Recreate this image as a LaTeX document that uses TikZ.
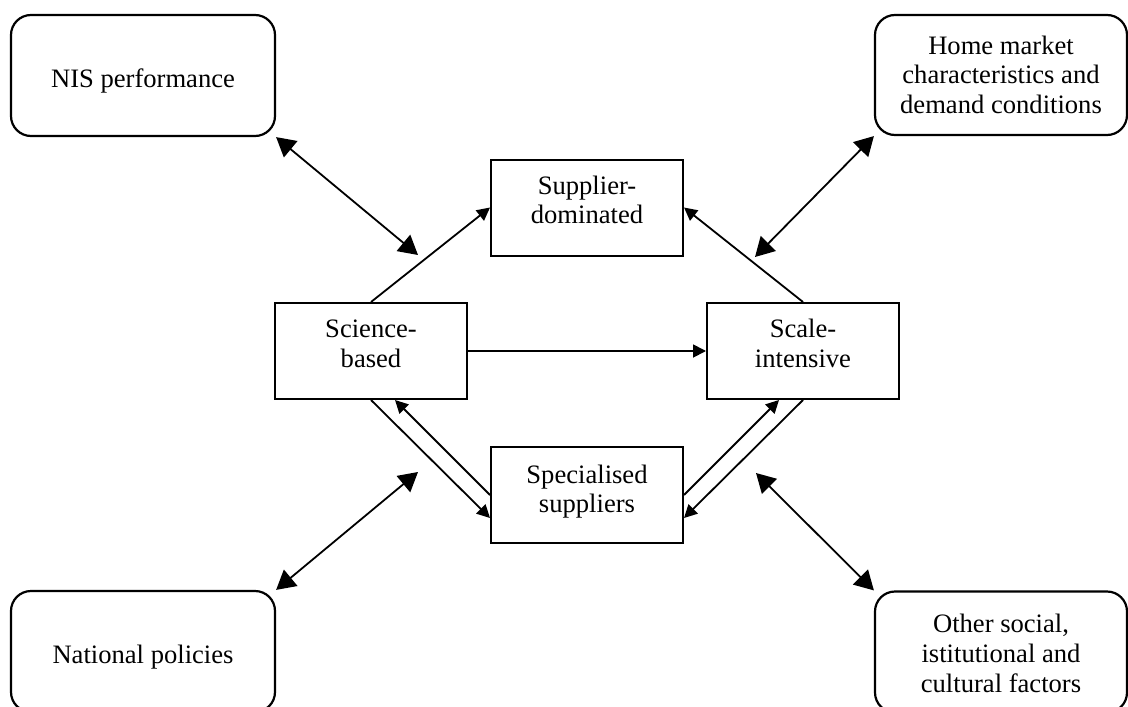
\documentclass[tikz,border=0pt]{standalone}
\usepackage{fontspec}
\setmainfont{Liberation Serif}
\usetikzlibrary{arrows.meta}
\newcommand{\lowtext}[2]{\raisebox{#1}[\height][\depth]{\begin{tabular}{@{}c@{}}#2\end{tabular}}}
\tikzset{
  txt/.style={font=\fontsize{13.3}{14.9}\selectfont, align=center, inner sep=0pt},
  outerbox/.style={txt, draw, line width=1.1pt, rounded corners=10pt},
  midbox/.style={txt, draw, line width=1pt, minimum width=96pt, minimum height=48pt},
  sarrow/.style={line width=0.9pt, -{Triangle[length=6.5pt,width=6.5pt]}},
  barrow/.style={line width=0.9pt, {Triangle[length=9.5pt,width=10.5pt]}-{Triangle[length=9.5pt,width=10.5pt]}}
}
\begin{document}
\begin{tikzpicture}[x=0.5pt,y=-0.5pt]
\useasboundingbox (0,0) rectangle (1128,706);
\clip (0,0) rectangle (1128,706);
% outer rounded boxes
\node[outerbox, minimum width=132pt, minimum height=60.5pt] (nis) at (143,75.5) {\lowtext{-3.2pt}{NIS performance}};
\node[outerbox, minimum width=126pt, minimum height=60pt] (home) at (1001,75) {\lowtext{-1.5pt}{Home market\\characteristics and\\demand conditions}};
\node[outerbox, minimum width=132pt, minimum height=60.5pt] (natpol) at (143,651.5) {\lowtext{-3.2pt}{National policies}};
\node[outerbox, minimum width=126pt, minimum height=60.5pt] (other) at (1001,652) {\lowtext{-2.2pt}{Other social,\\istitutional and\\cultural factors}};
% middle boxes
\node[midbox] (sci) at (371,351) {\lowtext{2.2pt}{Science-\\based}};
\node[midbox] (sca) at (803,351) {\lowtext{2.2pt}{Scale-\\intensive}};
\node[midbox] (sup) at (587,207.5) {\lowtext{2.2pt}{Supplier-\\dominated}};
\node[midbox] (spec) at (587,495) {\lowtext{1.5pt}{Specialised\\suppliers}};
% free ends of the double arrows
\coordinate (a1) at (418,255);
\coordinate (a2) at (755,257);
\coordinate (a3) at (418,472);
\coordinate (a4) at (756,473);
% inner arrows
\draw[sarrow] (sci.north) -- (sup.west);
\draw[sarrow] (sca.north) -- (sup.east);
\draw[sarrow] (sci.east) -- (sca.west);
\draw[sarrow] (sci.south) -- ([yshift=-11.5pt]spec.west);
\draw[sarrow] (spec.west) -- ([xshift=12pt]sci.south);
\draw[sarrow] (spec.east) -- ([xshift=-12pt]sca.south);
\draw[sarrow] (sca.south) -- ([yshift=-11.5pt]spec.east);
% double arrows
\draw[barrow] (nis.south east) -- (a1);
\draw[barrow] (home.south west) -- (a2);
\draw[barrow] (natpol.north east) -- (a3);
\draw[barrow] (other.north west) -- (a4);
\end{tikzpicture}
\end{document}
